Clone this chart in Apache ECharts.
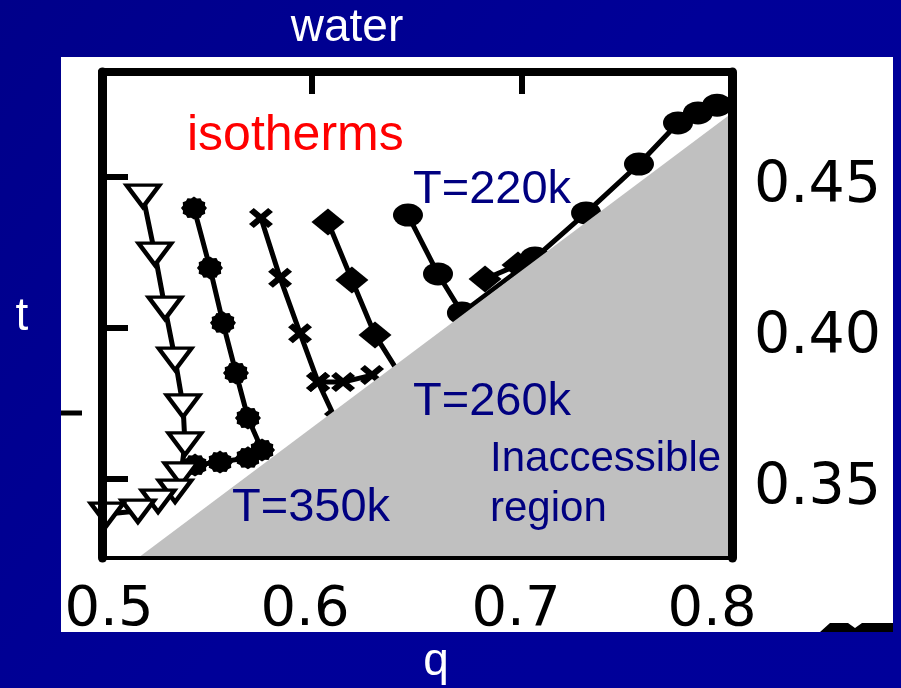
<!DOCTYPE html>
<html>
<head>
<meta charset="utf-8">
<script src="https://cdn.jsdelivr.net/npm/echarts@6/dist/echarts.min.js"></script>
<style>
  html, body { margin: 0; padding: 0; background: #000092; }
  #chart { width: 901px; height: 688px; }
</style>
</head>
<body>
<div id="chart"></div>
<script>
// ---- data (q = order parameter, t = translational order) ----
const qTicks = [0.5, 0.6, 0.7, 0.8];
const tTicks = [0.35, 0.40, 0.45];
const qRange = [0.5, 0.8];
const tRange = [0.32384, 0.48477];

// isotherm T=350k (open triangles)
const triangles = [[0.5195,0.4437],[0.5252,0.4245],[0.5300,0.4066],[0.5348,0.3897],[0.5386,0.3742],[0.5395,0.3616],
                   [0.5376,0.3517],[0.5348,0.3460],[0.5267,0.3427],[0.5171,0.3394],[0.5024,0.3384],[0.4986,0.3328]];
// filled spiky dots
const dots = [[0.5438,0.4397],[0.5514,0.4199],[0.5576,0.4017],[0.5638,0.3851],[0.5695,0.3702],[0.5762,0.3596],
              [0.5695,0.3570],[0.5562,0.3556],[0.5443,0.3546]];
// crosses (null splits the branch)
const crosses = [[0.5757,0.4364],[0.5848,0.4166],[0.5943,0.3983],[0.6029,0.3821],[0.6114,0.3695],null,
                 [0.6029,0.3821],[0.6148,0.3821],[0.6286,0.3844]];
// diamonds
const diamonds = [[0.6076,0.4351],[0.6190,0.4159],[0.6300,0.3977],[0.6429,0.3834],null,[0.6824,0.4162],[0.6981,0.4209]];
// isotherm T=220k (filled circles)
const circles = [[0.6457,0.4374],[0.6600,0.4179],[0.6714,0.4050],[0.7062,0.4232],[0.7305,0.4381],[0.7557,0.4543],
                 [0.7743,0.4679],[0.7838,0.4712],[0.7929,0.4738]];
// inaccessible region (triangle under the boundary)
const inaccessible = [[0.5171,0.32384],[0.8,0.4712],[0.8,0.32384]];

// ---- marker shapes ----
function spikyPath(n, r1, r2) {
  let d = '';
  for (let i = 0; i < 2 * n; i++) {
    const r = i % 2 === 0 ? r1 : r2;
    const a = Math.PI * i / n;
    const x = (12 + r * Math.cos(a)).toFixed(2), y = (12 + r * Math.sin(a)).toFixed(2);
    d += (i === 0 ? 'M' : 'L') + x + ',' + y + ' ';
  }
  return 'path://' + d + 'Z';
}
const triDown = 'path://M0,0 L32,0 L16,22 Z';
const crossShape = 'path://M0,4 L4,0 L10,6 L16,0 L20,4 L14,10 L20,16 L16,20 L10,14 L4,20 L0,16 L6,10 Z';
const ellipseShape = 'path://M0,10 A15,10 0 1,1 30,10 A15,10 0 1,1 0,10 Z';
const spiky = spikyPath(12, 11, 9.6);

const chart = echarts.init(document.getElementById('chart'), null, { renderer: 'canvas' });

function lineSeries(name, data, symbol, size, fill) {
  return {
    name, type: 'line', data, symbol, symbolSize: size, showSymbol: true,
    connectNulls: false, z: 2, clip: true,
    lineStyle: { color: '#000', width: 5 },
    itemStyle: { color: fill, borderColor: '#000', borderWidth: fill === '#fff' ? 4 : 0 },
    emphasis: { disabled: true }, animation: false
  };
}

const labelFont = 'DejaVu Sans';
const textFont = '"Liberation Sans", Arial, sans-serif';

chart.setOption({
  animation: false,
  backgroundColor: {
    type: 'linear', x: 0, y: 0, x2: 1, y2: 1,
    colorStops: [{ offset: 0, color: '#00008a' }, { offset: 0.5, color: '#000098' }, { offset: 1, color: '#00009a' }]
  },
  grid: { left: 102, right: 169, top: 72, bottom: 130, containLabel: false },
  xAxis: [
    {
      type: 'value', position: 'bottom', min: qRange[0], max: qRange[1], interval: 0.1, z: 10,
      axisLine: { show: true, onZero: false, lineStyle: { color: '#000', width: 4 } },
      axisTick: { show: false }, splitLine: { show: false },
      axisLabel: {
        show: true, margin: 24, color: '#000', fontFamily: labelFont, fontSize: 56,
        customValues: qTicks,
        formatter: v => '{s' + Math.round(v * 10) + '|' + v.toFixed(1) + '}',
        rich: {
          s5: { fontFamily: labelFont, fontSize: 56, color: '#000', padding: [0, 0, 0, 14] },
          s6: { fontFamily: labelFont, fontSize: 56, color: '#000', padding: [0, 14, 0, 0] },
          s7: { fontFamily: labelFont, fontSize: 56, color: '#000', padding: [0, 12, 0, 0] },
          s8: { fontFamily: labelFont, fontSize: 56, color: '#000', padding: [0, 40, 0, 0] }
        }
      }
    },
    {
      type: 'value', position: 'top', min: qRange[0], max: qRange[1], interval: 0.1, z: 10,
      axisLine: { show: true, onZero: false, lineStyle: { color: '#000', width: 8 } },
      axisTick: { show: true, inside: true, length: 22, lineStyle: { color: '#000', width: 6 } },
      axisLabel: { show: false }, splitLine: { show: false }
    }
  ],
  yAxis: [
    {
      type: 'value', position: 'left', min: tRange[0], max: tRange[1], z: 10,
      axisLine: { show: true, onZero: false, lineStyle: { color: '#000', width: 9 } },
      axisTick: { show: true, inside: true, length: 26, customValues: tTicks, lineStyle: { color: '#000', width: 6 } },
      axisLabel: { show: false }, splitLine: { show: false }
    },
    {
      type: 'value', position: 'right', min: tRange[0], max: tRange[1], z: 10,
      axisLine: { show: true, onZero: false, lineStyle: { color: '#000', width: 9 } },
      axisTick: { show: false }, splitLine: { show: false },
      axisLabel: {
        show: true, margin: 22, customValues: tTicks, color: '#000',
        fontFamily: labelFont, fontSize: 57,
        formatter: v => '{v|' + v.toFixed(2) + '}',
        rich: { v: { fontFamily: labelFont, fontSize: 57, color: '#000', padding: [20, 0, 0, 0] } }
      }
    }
  ],
  series: [
    lineSeries('dots', dots, spiky, [26, 23], '#000'),
    lineSeries('crosses', crosses, crossShape, [24, 20], '#000'),
    lineSeries('diamonds', diamonds, 'diamond', [33, 27], '#000'),
    lineSeries('T=220k', circles, ellipseShape, [30, 23], '#000'),
    lineSeries('T=350k', triangles, triDown, [33, 22], '#fff'),
    {
      name: 'Inaccessible region', type: 'custom', z: 5, data: inaccessible,
      renderItem: (params, api) => {
        if (params.dataIndex !== 0) return null;
        const pts = inaccessible.map(p => api.coord(p));
        return { type: 'polygon', shape: { points: pts }, style: { fill: '#c0c0c0' } };
      },
      animation: false, silent: true
    }
  ],
  graphic: [
    { type: 'rect', z: -1, shape: { x: 61, y: 57, width: 832, height: 575 }, style: { fill: '#fff' } },
    { type: 'line', z: 20, shape: { x1: 61, y1: 413, x2: 82, y2: 413 }, style: { stroke: '#000', lineWidth: 5 } },
    { type: 'polygon', z: 20, shape: { points: [[820,632],[830,623],[848,623],[855,628],[862,623],[893,623],[893,632]] }, style: { fill: '#000' } },
    { type: 'text', z: 100, style: { text: 'water', x: 347, y: 28, fill: '#fff', font: '46px ' + textFont, align: 'center', verticalAlign: 'middle', textAlign: 'center', textVerticalAlign: 'middle' } },
    { type: 'text', z: 100, style: { text: 't', x: 22, y: 317, fill: '#fff', font: '46px ' + textFont, align: 'center', verticalAlign: 'middle', textAlign: 'center', textVerticalAlign: 'middle' } },
    { type: 'text', z: 100, style: { text: 'q', x: 436, y: 662, fill: '#fff', font: '46px ' + textFont, align: 'center', verticalAlign: 'middle', textAlign: 'center', textVerticalAlign: 'middle' } },
    { type: 'text', z: 100, style: { text: 'isotherms', x: 187, y: 136, fill: '#ff0000', font: '50px ' + textFont, align: 'left', verticalAlign: 'middle', textAlign: 'left', textVerticalAlign: 'middle' } },
    { type: 'text', z: 100, style: { text: 'T=220k', x: 413, y: 190, fill: '#000080', font: '47px ' + textFont, align: 'left', verticalAlign: 'middle', textAlign: 'left', textVerticalAlign: 'middle' } },
    { type: 'text', z: 100, style: { text: 'T=260k', x: 413, y: 402, fill: '#000080', font: '47px ' + textFont, align: 'left', verticalAlign: 'middle', textAlign: 'left', textVerticalAlign: 'middle' } },
    { type: 'text', z: 100, style: { text: 'T=350k', x: 232, y: 508, fill: '#000080', font: '47px ' + textFont, align: 'left', verticalAlign: 'middle', textAlign: 'left', textVerticalAlign: 'middle' } },
    { type: 'text', z: 100, style: { text: 'Inaccessible', x: 490, y: 459, fill: '#000080', font: '42px ' + textFont, align: 'left', verticalAlign: 'middle', textAlign: 'left', textVerticalAlign: 'middle' } },
    { type: 'text', z: 100, style: { text: 'region', x: 490, y: 509, fill: '#000080', font: '42px ' + textFont, align: 'left', verticalAlign: 'middle', textAlign: 'left', textVerticalAlign: 'middle' } }
  ]
});
</script>
</body>
</html>
